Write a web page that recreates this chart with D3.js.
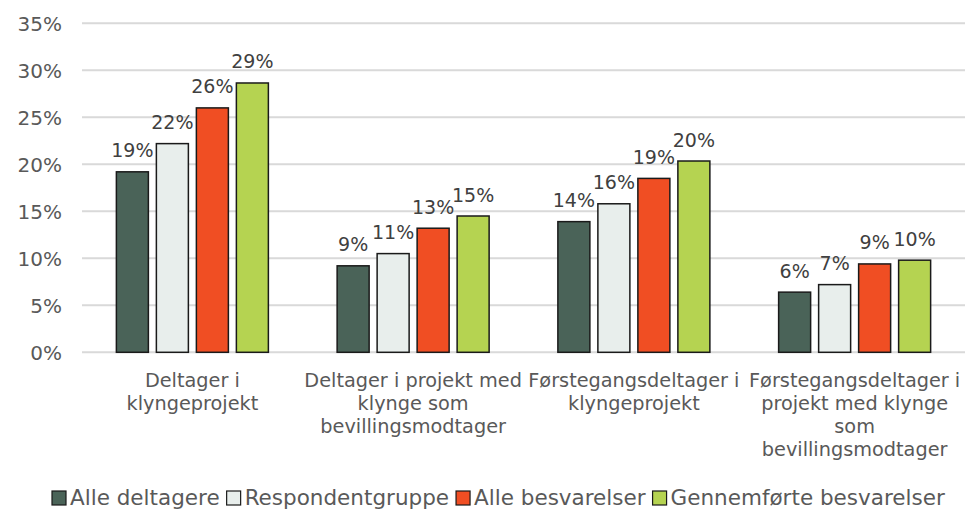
<!DOCTYPE html>
<html>
<head>
<meta charset="utf-8">
<script src="https://cdn.jsdelivr.net/npm/d3@7"></script>
<style>
  html, body { margin: 0; padding: 0; background: #fff; }
  svg { display: block; font-family: "DejaVu Sans", Verdana, sans-serif; }
</style>
</head>
<body>
<svg id="chart" width="965" height="509"></svg>
<script>
// Category labels, broken into lines as they are printed under the axis
const categories = [
  ["Deltager i", "klyngeprojekt"],
  ["Deltager i projekt med", "klynge som", "bevillingsmodtager"],
  ["Førstegangsdeltager i", "klyngeprojekt"],
  ["Førstegangsdeltager i", "projekt med klynge", "som", "bevillingsmodtager"]
];
const seriesNames = ["Alle deltagere", "Respondentgruppe", "Alle besvarelser", "Gennemførte besvarelser"];
const seriesColors = ["#4a6358", "#e8eeec", "#f04e23", "#b5d351"];

// Shares per series, one value per category (percent)
const alleDeltagere      = [19.2, 9.2, 13.9, 6.4];
const respondentgruppe   = [22.2, 10.5, 15.8, 7.2];
const alleBesvarelser    = [26.0, 13.2, 18.5, 9.4];
const gennemfoerte       = [28.65, 14.5, 20.35, 9.8];
const series = [alleDeltagere, respondentgruppe, alleBesvarelser, gennemfoerte];

const yTicks = [0, 5, 10, 15, 20, 25, 30, 35];

const svg = d3.select("#chart");
const plot = { left: 82, right: 965, top: 23.3, bottom: 352.3 };

const x0 = d3.scaleBand()
  .domain(d3.range(categories.length))
  .range([plot.left, plot.right])
  .paddingInner(0).paddingOuter(0);

const groupWidth = 152;
const x1 = d3.scaleBand()
  .domain(d3.range(series.length))
  .range([0, groupWidth])
  .paddingInner(0.2)
  .paddingOuter(0);

const y = d3.scaleLinear().domain([0, 35]).range([plot.bottom, plot.top]);

// Horizontal gridlines
svg.append("g")
  .selectAll("line")
  .data(yTicks)
  .join("line")
  .attr("x1", plot.left).attr("x2", plot.right)
  .attr("y1", d => y(d)).attr("y2", d => y(d))
  .attr("stroke", "#d9d9d9")
  .attr("stroke-width", 2);

// Y axis tick labels
svg.append("g")
  .selectAll("text")
  .data(yTicks)
  .join("text")
  .attr("x", 62)
  .attr("y", d => y(d))
  .attr("dy", "0.36em")
  .attr("text-anchor", "end")
  .attr("fill", "#595959")
  .attr("font-size", 20)
  .text(d => d + "%");

// Bars and value labels
const groups = svg.append("g")
  .selectAll("g")
  .data(categories)
  .join("g")
  .attr("transform", (d, i) => `translate(${x0(i) + (x0.bandwidth() - groupWidth) / 2},0)`);

groups.selectAll("rect")
  .data((d, i) => series.map((s, k) => ({ k, v: s[i] })))
  .join("rect")
  .attr("x", d => x1(d.k))
  .attr("y", d => y(d.v))
  .attr("width", x1.bandwidth())
  .attr("height", d => y(0) - y(d.v))
  .attr("fill", d => seriesColors[d.k])
  .attr("stroke", "#1a1a1a")
  .attr("stroke-width", 1.5);

groups.selectAll("text.val")
  .data((d, i) => series.map((s, k) => ({ k, v: s[i] })))
  .join("text")
  .attr("class", "val")
  .attr("x", d => x1(d.k) + x1.bandwidth() / 2)
  .attr("y", d => y(d.v) - 14.5)
  .attr("text-anchor", "middle")
  .attr("fill", "#404040")
  .attr("font-size", 19)
  .text(d => Math.round(d.v) + "%");

// Category labels
const cat = svg.append("g")
  .selectAll("text")
  .data(categories)
  .join("text")
  .attr("x", (d, i) => x0(i) + x0.bandwidth() / 2)
  .attr("y", 387)
  .attr("text-anchor", "middle")
  .attr("fill", "#595959")
  .attr("font-size", 19.3);
cat.selectAll("tspan")
  .data(d => d)
  .join("tspan")
  .attr("x", function () { return this.parentNode.getAttribute("x"); })
  .attr("dy", (d, j) => j === 0 ? 0 : 23)
  .text(d => d);

// Legend
const legend = svg.append("g").attr("transform", "translate(0,505)");
let lx = 52;
seriesNames.forEach((name, k) => {
  legend.append("rect")
    .attr("x", lx).attr("y", -14)
    .attr("width", 14).attr("height", 14)
    .attr("fill", seriesColors[k])
    .attr("stroke", "#1a1a1a").attr("stroke-width", 1.2);
  const t = legend.append("text")
    .attr("x", lx + 18).attr("y", 0)
    .attr("fill", "#595959")
    .attr("font-size", 21.5)
    .text(name);
  lx += 18 + t.node().getComputedTextLength() + 7;
});
</script>
</body>
</html>
